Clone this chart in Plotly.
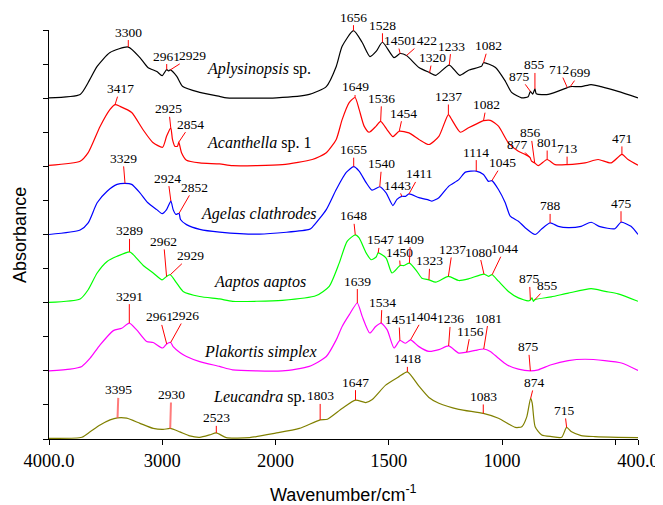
import numpy as np
import plotly.graph_objects as go

# ---------------- data (wavenumber cm-1, relative absorbance) ----------------
wn_aply = [4000, 3725, 3654, 3575, 3461, 3300, 3197, 3127, 3048, 3001, 2961, 2945, 2929, 2872, 2819, 2669, 2494, 2432,
           1996, 1851, 1776, 1732, 1706, 1656, 1618, 1583, 1556, 1528, 1477, 1450, 1422, 1367, 1320, 1293, 1233, 1187,
           1148, 1090, 1082, 1029, 985, 958, 914, 885, 875, 865, 855, 849, 796, 712, 699, 651, 607, 563, 488, 400]
ab_aply = [0.01, 0.11, 0.46, 0.93, 1.34, 1.50, 1.19, 0.90, 0.78, 0.66, 0.84, 0.80, 0.83, 0.64, 0.34, 0.17, 0.05, 0.01,
           0.01, 0.11, 0.34, 0.93, 1.52, 1.98, 1.64, 1.22, 1.37, 1.64, 1.19, 1.31, 1.25, 0.90, 0.75, 0.67, 0.97, 0.67,
           0.82, 0.94, 1.04, 0.90, 0.49, 0.17, 0.01, 0.04, 0.20, 0.12, 0.27, 0.13, 0.11, 0.31, 0.34, 0.34, 0.40, 0.34, 0.20, 0.01]

wn_acan = [4000, 3725, 3654, 3549, 3461, 3417, 3373, 3270, 3171, 3083, 2997, 2962, 2925, 2910, 2889, 2866, 2854, 2830,
           2786, 2669, 2494, 2379, 1970, 1838, 1776, 1732, 1706, 1675, 1649, 1631, 1609, 1587, 1556, 1536, 1508, 1482,
           1454, 1411, 1367, 1323, 1279, 1237, 1222, 1184, 1148, 1090, 1082, 1052, 1016, 972, 928, 898, 877, 870, 856,
           840, 801, 766, 713, 634, 576, 519, 471, 444, 400]
ab_acan = [0.03, 0.15, 0.40, 1.17, 1.67, 1.81, 1.76, 1.58, 1.08, 0.70, 0.56, 0.88, 1.13, 0.79, 0.59, 0.59, 0.71, 0.40,
           0.18, 0.10, 0.07, 0.02, 0.05, 0.20, 0.40, 0.79, 1.37, 1.87, 2.02, 1.67, 1.18, 1.00, 1.18, 1.32, 1.08, 0.87,
           1.03, 0.98, 0.79, 0.64, 0.88, 1.52, 1.37, 1.00, 1.13, 1.32, 1.34, 1.35, 1.18, 0.69, 0.44, 0.35, 0.26, 0.15, 0.10,
           0.02, 0.20, 0.05, 0.05, 0.10, 0.20, 0.10, 0.35, 0.20, 0.03]

wn_agel = [4000, 3725, 3654, 3575, 3487, 3399, 3329, 3270, 3197, 3127, 3048, 3001, 2962, 2924, 2904, 2880, 2852, 2839,
           2786, 2669, 2494, 2142, 1851, 1838, 1776, 1732, 1688, 1655, 1631, 1600, 1574, 1540, 1512, 1482, 1464, 1443,
           1426, 1411, 1367, 1323, 1310, 1279, 1235, 1191, 1162, 1114, 1082, 1060, 1045, 1016, 986, 964, 928, 898, 854,
           827, 788, 752, 708, 651, 607, 568, 502, 475, 431, 400]
ab_agel = [0.00, 0.13, 0.34, 0.93, 1.27, 1.47, 1.50, 1.47, 1.22, 0.93, 0.73, 0.61, 0.73, 0.98, 0.73, 0.59, 0.62, 0.44,
           0.29, 0.15, 0.07, 0.01, 0.15, 0.21, 0.73, 1.32, 1.82, 1.99, 1.86, 1.52, 1.30, 1.40, 1.22, 0.85, 1.03, 1.12,
           1.12, 1.19, 1.08, 1.01, 0.98, 1.08, 1.42, 1.61, 1.83, 1.86, 1.76, 1.56, 1.58, 1.32, 0.93, 0.54, 0.39, 0.20, 0.00,
           0.15, 0.34, 0.24, 0.20, 0.24, 0.36, 0.23, 0.17, 0.36, 0.24, 0.00]

wn_aapt = [4000, 3725, 3654, 3575, 3487, 3399, 3289, 3256, 3168, 3080, 3001, 2962, 2929, 2874, 2816, 2669, 2494, 2379,
           1970, 1820, 1763, 1719, 1684, 1648, 1631, 1600, 1578, 1556, 1547, 1512, 1486, 1450, 1433, 1409, 1376, 1354,
           1323, 1293, 1237, 1191, 1148, 1080, 1060, 1044, 1016, 972, 928, 885, 875, 868, 862, 855, 783, 708, 607, 545,
           488, 400]
ab_aapt = [0.01, 0.11, 0.38, 0.87, 1.21, 1.36, 1.49, 1.41, 1.09, 0.87, 0.67, 0.77, 0.82, 0.58, 0.33, 0.18, 0.11, 0.04,
           0.07, 0.21, 0.48, 1.16, 1.80, 1.99, 1.90, 1.46, 1.26, 1.34, 1.46, 1.31, 0.87, 1.09, 1.09, 1.16, 0.92, 0.72,
           0.67, 0.60, 0.77, 0.65, 0.70, 0.84, 0.77, 0.82, 0.63, 0.33, 0.14, 0.05, 0.08, 0.14, 0.04, 0.09, 0.17, 0.28, 0.41, 0.33,
           0.26, 0.04]

wn_plak = [4000, 3813, 3710, 3637, 3549, 3432, 3358, 3291, 3226, 3138, 3080, 2997, 2961, 2926, 2904, 2845, 2786, 2669,
           2494, 2379, 1970, 1851, 1776, 1732, 1706, 1675, 1639, 1617, 1584, 1558, 1534, 1507, 1477, 1451, 1426, 1404,
           1367, 1323, 1279, 1236, 1191, 1156, 1118, 1081, 1052, 1016, 979, 928, 875, 840, 783, 708, 634, 547, 473, 400]
ab_plak = [0.00, 0.05, 0.13, 0.37, 0.76, 1.18, 1.25, 1.40, 1.20, 0.86, 0.83, 0.67, 0.79, 0.83, 0.71, 0.54, 0.42, 0.27,
           0.13, 0.03, 0.00, 0.13, 0.42, 0.91, 1.30, 1.64, 1.99, 1.59, 1.11, 1.30, 1.40, 1.20, 0.67, 0.89, 0.81, 0.91,
           0.71, 0.57, 0.62, 0.73, 0.52, 0.55, 0.60, 0.64, 0.57, 0.37, 0.18, 0.05, 0.00, 0.03, 0.18, 0.30, 0.34, 0.30, 0.23, 0.01]

wn_leuc = [4000, 3710, 3637, 3549, 3461, 3395, 3314, 3197, 3080, 2993, 2930, 2845, 2757, 2669, 2582, 2523, 2435, 2230,
           2000, 1895, 1803, 1771, 1705, 1647, 1602, 1573, 1514, 1455, 1418, 1367, 1323, 1279, 1191, 1083, 1016, 942,
           913, 891, 874, 867, 854, 825, 781, 737, 715, 693, 651, 590, 488, 400]
ab_leuc = [0.02, 0.05, 0.21, 0.41, 0.56, 0.62, 0.61, 0.46, 0.31, 0.28, 0.31, 0.21, 0.09, 0.05, 0.12, 0.18, 0.04, 0.04,
           0.17, 0.31, 0.56, 0.58, 0.90, 1.14, 1.07, 1.16, 1.58, 1.83, 1.97, 1.55, 1.22, 1.05, 0.87, 0.75, 0.61, 0.34,
           0.36, 0.65, 1.19, 1.05, 0.36, 0.12, 0.07, 0.05, 0.34, 0.21, 0.10, 0.07, 0.05, 0.04]

species = ["<i>Aplysinopsis</i> sp.", "<i>Acanthella</i> sp. 1", "<i>Agelas clathrodes</i>",
           "<i>Aaptos aaptos</i>", "<i>Plakortis simplex</i>", "<i>Leucandra</i> sp."]
stack_offsets = [10, 8, 6, 4, 2, 0]

peaks_aply = [3300, 2961, 2929, 1656, 1528, 1450, 1422, 1320, 1233, 1082, 875, 855, 712, 699]
peaks_acan = [3417, 2925, 2854, 1649, 1536, 1454, 1237, 1082, 877, 856, 801, 713, 471]
peaks_agel = [3329, 2924, 2852, 1655, 1540, 1443, 1411, 1114, 1045, 788, 475]
peaks_aapt = [3289, 2962, 2929, 1648, 1547, 1450, 1409, 1323, 1237, 1080, 1044, 875, 855]
peaks_plak = [3291, 2961, 2926, 1639, 1534, 1451, 1404, 1236, 1156, 1081, 875]
peaks_leuc = [3395, 2930, 2523, 1803, 1647, 1418, 1083, 874, 715]

x_tick_values = [4000, 3000, 2000, 1500, 1000, 400]
x_tick_labels = ["4000.0", "3000", "2000", "1500", "1000", "400.0"]
x_minor_ticks = [500]

# ---------------- styling / layout ----------------
colors = ["#000000", "#ff0000", "#0000ff", "#00ff00", "#ff00ff", "#808000"]

# label offsets of the peak texts (pixels, relative to the marked point)
lab_aply = [(0, -15), (0, -13.5), (22, -14), (0, -13.5), (0, -17), (-3, -13), (17, -15), (3, -15), (2, -19), (5, -17),
            (-11, -15), (0, -24), (-8, -18), (10, -14)]
lab_acan = [(5, -16), (-2, -19), (12, -18), (0, -10.5), (1, -23), (4, -18), (0, -18), (3, -16), (-12.5, -13), (-4, -30),
            (0, -17), (0, -16), (0, -16)]
lab_agel = [(-2, -25), (-3, -23), (15, -26), (0, -17), (2, -23), (-4, -11), (11, -20), (0, -19), (11, -18), (0, -17),
            (0, -19)]
lab_aapt = [(0, -21), (-3, -35), (20, -19), (-2, -19), (2, -13), (-1, -13), (1, -24), (1, -19), (4, -27), (-5, -22),
            (12.5, -26), (-1, -21), (13, -14)]
lab_plak = [(0, -27), (-7, -27), (15, -27), (0, -22), (1, -21), (-1, -21), (13, -23), (2, -27), (4, -21), (5, -31),
            (-2, -24)]
lab_leuc = [(1, -28), (1, -34), (0, -15), (0, -24), (0, -18), (0, -13), (0, -17), (4, -16), (-2, -17)]

# species label centres (screen pixels)
species_px = [(260, 69), (260, 143), (260, 214), (261, 282), (261, 352), (260, 397)]

# page geometry: the html body has an 8 px margin, plot area wanted at screen x 48.7..640, y 30..439
W, H, PAGE = 663, 505, 8
X0, X1, Y0, Y1 = 48.7, 640.0, 30.0, 439.0
PW, PH = X1 - X0, Y1 - Y0


def to_u(wn):
    wn = np.asarray(wn, dtype=float)
    return np.where(wn > 2000, 2000 + (wn - 2000) / 2.0, wn)


def paper_x(px):
    return (px - X0) / PW


def paper_y(py):
    return (Y1 - py) / PH


serif = "Liberation Serif, Times New Roman, serif"
sans = "Liberation Sans, Arial, sans-serif"

fig = go.Figure()
wns = [wn_aply, wn_acan, wn_agel, wn_aapt, wn_plak, wn_leuc]
abs_ = [ab_aply, ab_acan, ab_agel, ab_aapt, ab_plak, ab_leuc]
peaks = [peaks_aply, peaks_acan, peaks_agel, peaks_aapt, peaks_plak, peaks_leuc]
labs = [lab_aply, lab_acan, lab_agel, lab_aapt, lab_plak, lab_leuc]

annotations = []
for i in range(6):
    wn = np.array(wns[i], float)
    ab = np.array(abs_[i], float)
    fig.add_trace(go.Scatter(x=to_u(wn), y=ab + stack_offsets[i], mode="lines",
                             line=dict(color=colors[i], width=1.2, shape="spline", smoothing=0.6),
                             hoverinfo="skip", showlegend=False))
    for j, p in enumerate(peaks[i]):
        yv = np.interp(p, wn[::-1], ab[::-1]) + stack_offsets[i]
        ax, ay = labs[i][j]
        light = (i == 5 and p in (3395, 2930))
        annotations.append(dict(x=float(to_u(p)), y=float(yv), xref="x", yref="y", text=str(p),
                                showarrow=True, arrowhead=0, standoff=0, startstandoff=0,
                                arrowwidth=2 if light else 1,
                                arrowcolor="rgba(255,80,80,0.75)" if light else "#ff0000",
                                ax=ax, ay=ay, borderpad=0,
                                font=dict(family=serif, size=13.5, color="black")))
    px, py = species_px[i]
    annotations.append(dict(x=paper_x(px), y=paper_y(py), xref="paper", yref="paper",
                            text=species[i], showarrow=False, xanchor="center", yanchor="middle",
                            font=dict(family=serif, size=16, color="black")))

annotations.append(dict(x=paper_x(19), y=0.5, xref="paper", yref="paper", text="Absorbance",
                        textangle=-90, showarrow=False, xanchor="center", yanchor="middle",
                        font=dict(family=sans, size=18, color="black")))
annotations.append(dict(x=paper_x(344), y=paper_y(494), xref="paper", yref="paper",
                        text="Wavenumber/cm<sup>-1</sup>", showarrow=False, xanchor="center", yanchor="middle",
                        font=dict(family=sans, size=18, color="black")))

fig.update_layout(
    width=W, height=H,
    margin=dict(l=X0 - PAGE, r=W - (X1 - PAGE), t=Y0 - PAGE, b=H - (Y1 - PAGE)),
    paper_bgcolor="white", plot_bgcolor="white",
    annotations=annotations,
    xaxis=dict(range=[3000, 400], tickmode="array", tickvals=list(to_u(x_tick_values)), ticktext=x_tick_labels,
               showgrid=False, zeroline=False, showline=True, linecolor="black", linewidth=1,
               ticks="outside", ticklen=5, tickcolor="black", ticklabeloverflow="allow",
               tickfont=dict(family=serif, size=18.5, color="black"),
               minor=dict(tickmode="array", tickvals=list(to_u(x_minor_ticks)), ticks="outside",
                          ticklen=5, tickcolor="black", showgrid=False)),
    yaxis=dict(range=[0, 12], tickvals=list(range(13)), showticklabels=False,
               showgrid=False, zeroline=False, showline=True, linecolor="black", linewidth=1,
               ticks="outside", ticklen=5, tickcolor="black"),
)

fig.write_html("out.html")
